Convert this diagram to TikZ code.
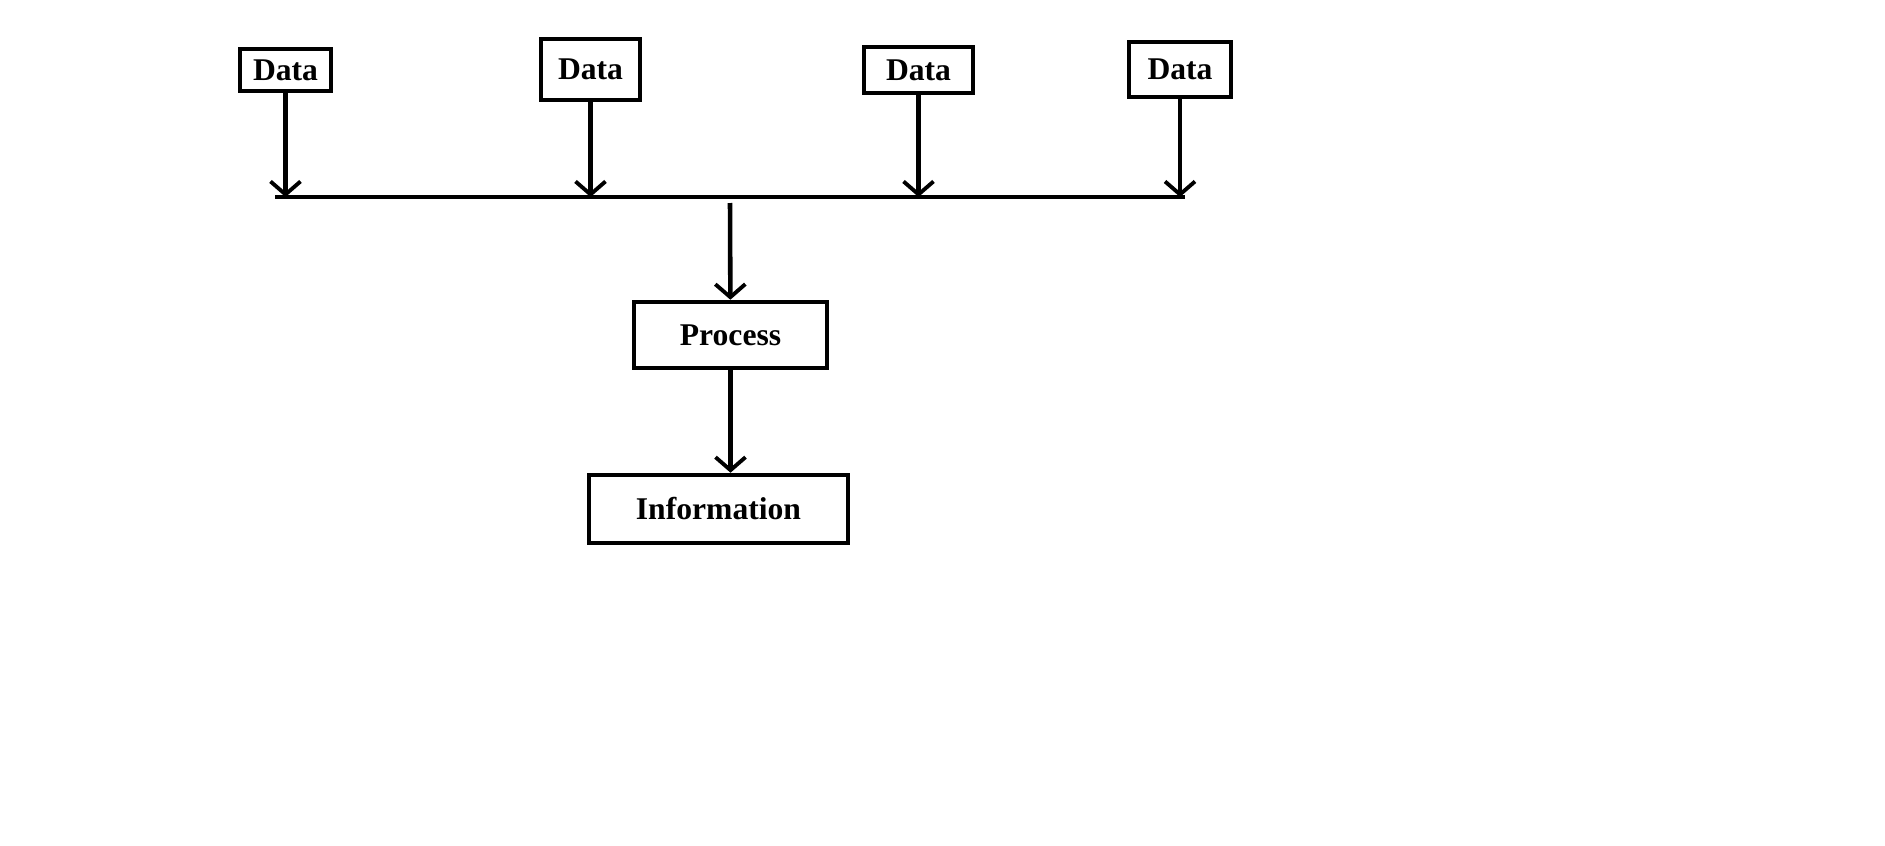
\documentclass[tikz,border=0pt]{standalone}
\usepackage{fontspec}
\setmainfont{Liberation Serif}
\usetikzlibrary{arrows.meta}

\begin{document}
\begin{tikzpicture}[x=0.02cm, y=-0.02cm,
    box/.style={draw, line width=2.6pt, inner sep=0pt, font=\fontsize{18}{22}\selectfont\bfseries},
    flow/.style={line width=2.6pt, -{Straight Barb[length=0.26cm, width=0.6cm, line width=2.2pt]}}]
  \useasboundingbox (0,0) rectangle (1885,845);

  \node[box, minimum width=1.82cm, minimum height=0.84cm] (d1) at (285.5,70) {Data};
  \node[box, minimum width=1.98cm, minimum height=1.22cm] (d2) at (590.5,69.5) {Data};
  \node[box, minimum width=2.18cm, minimum height=0.92cm] (d3) at (918.5,70) {Data};
  \node[box, minimum width=2.04cm, minimum height=1.10cm] (d4) at (1180,69.5) {Data};

  \node[box, minimum width=3.86cm, minimum height=1.32cm] (proc) at (730.5,335) {Process};
  \node[box, minimum width=5.18cm, minimum height=1.36cm] (info) at (718.5,509) {Information};

  \coordinate (barl) at (275,197);
  \coordinate (barr) at (1185,197);
  \coordinate (jn) at (730,203);

  \draw[line width=2.6pt] (barl) -- (barr);
  \draw[flow] (d1) -- (d1 |- barl);
  \draw[flow] (d2) -- (d2 |- barl);
  \draw[flow] (d3) -- (d3 |- barl);
  \draw[flow] (d4) -- (d4 |- barl);

  \draw[flow] (jn) -- (proc);
  \draw[flow] (proc.south) -- (proc.south |- info.north);
\end{tikzpicture}
\end{document}
